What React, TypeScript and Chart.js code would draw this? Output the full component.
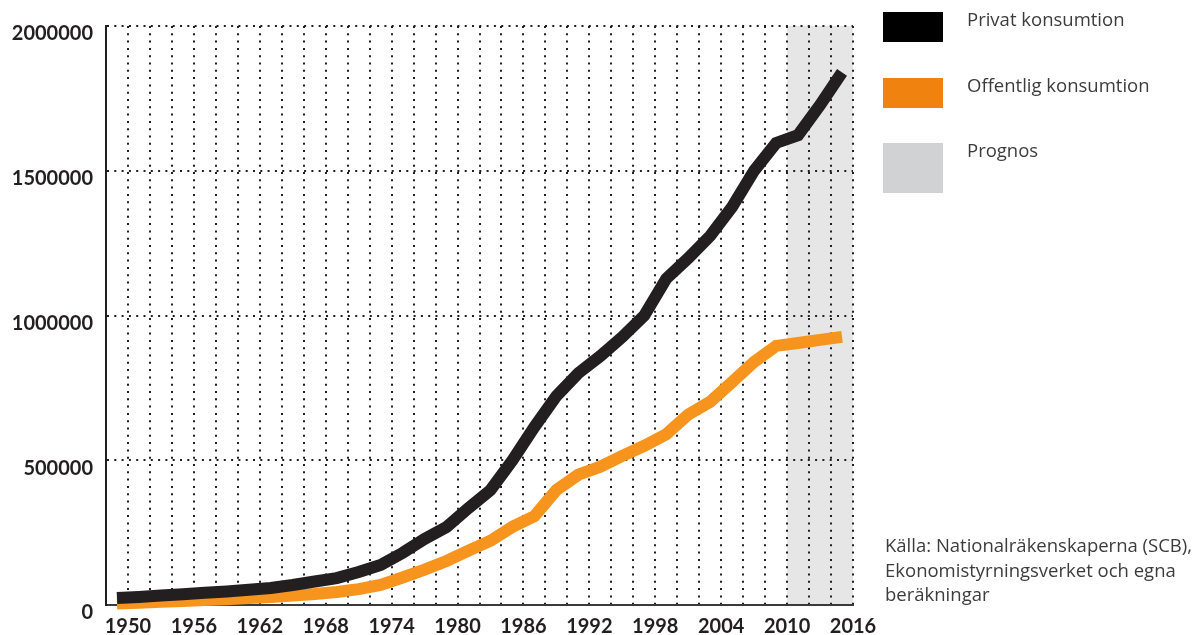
import React, { useEffect, useRef } from 'react';
import { Chart, registerables } from 'chart.js';

Chart.register(...registerables);

const years = [
  1950, 1952, 1954, 1956, 1958, 1960, 1962, 1964, 1966, 1968, 1970, 1972,
  1974, 1976, 1978, 1980, 1982, 1984, 1986, 1988, 1990, 1992, 1994, 1996,
  1998, 2000, 2002, 2004, 2006, 2008, 2010, 2012, 2014, 2016,
];

const privatKonsumtion = [
  24000, 28000, 33000, 37000, 42000, 47000, 53000, 59000, 69000, 81000, 93000, 114000,
  138000, 180000, 228000, 269000, 335000, 397000, 500000, 615000, 722000, 801000, 860000, 926000,
  1000000, 1127000, 1198000, 1275000, 1375000, 1500000, 1596000, 1623000, 1727000, 1840000,
];

const offentligKonsumtion = [
  5000, 8000, 11000, 14000, 17000, 20000, 24000, 28000, 33000, 38000, 45000, 55000,
  69000, 95000, 122000, 152000, 188000, 222000, 270000, 307000, 397000, 450000, 478000, 515000,
  550000, 590000, 658000, 702000, 770000, 840000, 895000, 905000, 916000, 926000,
];

const xTickLabels = [1950, 1956, 1962, 1968, 1974, 1980, 1986, 1992, 1998, 2004, 2010, 2016];
const yTickValues = [0, 500000, 1000000, 1500000, 2000000];
const prognosStart = 2010;
const prognosEnd = 2016;

const legendItems = [
  { label: 'Privat konsumtion', color: '#000000', height: 30, top: 12 },
  { label: 'Offentlig konsumtion', color: '#f0820f', height: 30, top: 78 },
  { label: 'Prognos', color: '#d1d2d4', height: 50, top: 143 },
];

const sourceLines = [
  'Källa: Nationalräkenskaperna (SCB),',
  'Ekonomistyrningsverket och egna',
  'beräkningar',
];

const prognosPlugin = {
  id: 'prognos',
  beforeDraw(chart: any) {
    const { ctx, chartArea, scales } = chart;
    const x0 = scales.x.getPixelForValue(prognosStart);
    const x1 = scales.x.getPixelForValue(prognosEnd);
    ctx.save();
    ctx.fillStyle = '#e6e6e6';
    ctx.fillRect(x0, chartArea.top, x1 - x0, chartArea.bottom - chartArea.top);
    ctx.restore();
  },
};

const DOT = '#231f20';
const tickFont = { family: 'Lato, "Open Sans", sans-serif', size: 20, weight: 'bold' };

export default function App() {
  const canvasRef = useRef<HTMLCanvasElement | null>(null);

  useEffect(() => {
    const canvas = canvasRef.current;
    if (!canvas) return;
    const chart = new Chart(canvas, {
      type: 'line',
      data: {
        datasets: [
          {
            label: 'Privat konsumtion',
            data: years.map((y, i) => ({ x: y, y: privatKonsumtion[i] })),
            borderColor: '#231f20',
            borderWidth: 12,
            pointRadius: 0,
            tension: 0,
            borderJoinStyle: 'miter',
            borderCapStyle: 'butt',
            xAxisID: 'xd',
            clip: false,
          },
          {
            label: 'Offentlig konsumtion',
            data: years.map((y, i) => ({ x: y, y: offentligKonsumtion[i] })),
            borderColor: '#f7941d',
            borderWidth: 12,
            pointRadius: 0,
            tension: 0,
            borderJoinStyle: 'miter',
            borderCapStyle: 'butt',
            xAxisID: 'xd',
            clip: false,
          },
        ],
      },
      options: {
        responsive: false,
        animation: false,
        devicePixelRatio: 1,
        layout: { padding: { top: 26, right: 347, bottom: 0, left: 0 } },
        plugins: {
          legend: { display: false },
          tooltip: { enabled: false },
        },
        scales: {
          x: {
            type: 'linear',
            position: 'bottom',
            min: 1948,
            max: 2016,
            afterFit(scale: any) {
              scale.height = 30;
            },
            ticks: {
              stepSize: 2,
              autoSkip: false,
              maxRotation: 0,
              padding: 10,
              color: '#231f20',
              font: tickFont,
              callback: (v: any) => (xTickLabels.includes(Number(v)) ? String(v) : ''),
            },
            grid: {
              drawTicks: false,
              lineWidth: 2,
              color: (ctx: any) => (ctx.tick && ctx.tick.value === 1948 ? 'rgba(0,0,0,0)' : DOT),
            },
            border: { display: true, color: '#3a3a3a', width: 2, dash: [2, 5.3] },
          },
          xd: {
            type: 'linear',
            display: false,
            min: 1949,
            max: 2017,
          },
          y: {
            type: 'linear',
            min: 0,
            max: 2000000,
            afterFit(scale: any) {
              scale.width = 106;
            },
            afterBuildTicks(scale: any) {
              scale.ticks = yTickValues.map((v) => ({ value: v }));
            },
            ticks: {
              padding: 13,
              labelOffset: 8,
              color: '#231f20',
              font: tickFont,
              callback: (v: any) => String(v),
            },
            grid: {
              drawTicks: false,
              lineWidth: 2,
              color: (ctx: any) => (ctx.tick && ctx.tick.value === 0 ? 'rgba(0,0,0,0)' : DOT),
            },
            border: { display: true, color: '#231f20', width: 2, dash: [2, 5.3] },
          },
        },
      } as any,
      plugins: [prognosPlugin],
    });
    return () => chart.destroy();
  }, []);

  const textFont = '"Open Sans", sans-serif';

  return (
    <div style={{ position: 'absolute', left: 0, top: 0, width: 1200, height: 635, background: '#ffffff', overflow: 'hidden' }}>
      <canvas ref={canvasRef} width={1200} height={635} style={{ position: 'absolute', left: 0, top: 0, width: 1200, height: 635 }} />
      {legendItems.map((item) => (
        <div key={item.label}>
          <div
            style={{
              position: 'absolute',
              left: 883,
              top: item.top,
              width: 60,
              height: item.height,
              background: item.color,
            }}
          />
          <div
            style={{
              position: 'absolute',
              left: 967,
              top: item.top - 2,
              fontFamily: textFont,
              fontSize: 18.5,
              fontWeight: 400,
              color: '#3c3c3c',
              whiteSpace: 'nowrap',
              lineHeight: '18.5px',
            }}
          >
            {item.label}
          </div>
        </div>
      ))}
      <div
        style={{
          position: 'absolute',
          left: 885,
          top: 533,
          fontFamily: textFont,
          fontSize: 18.5,
          fontWeight: 400,
          color: '#3c3c3c',
          lineHeight: '24.6px',
          whiteSpace: 'nowrap',
        }}
      >
        {sourceLines.map((l) => (
          <div key={l}>{l}</div>
        ))}
      </div>
    </div>
  );
}
